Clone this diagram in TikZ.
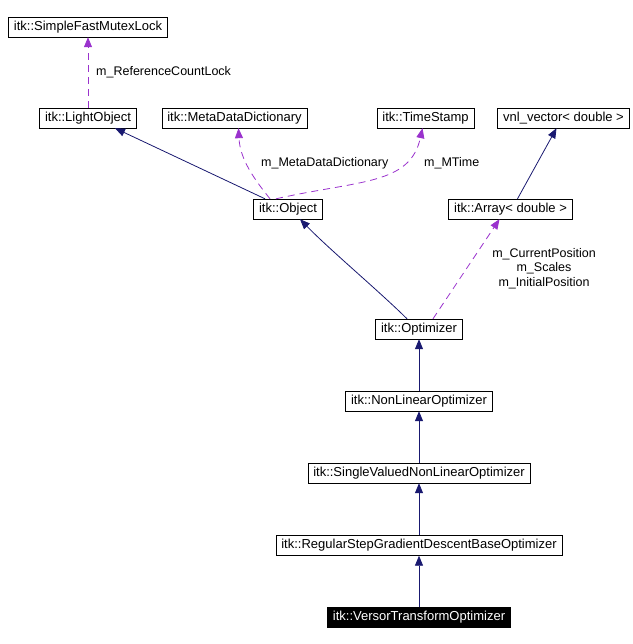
\documentclass[tikz,border=0pt]{standalone}
\usepackage{fontspec}
\setmainfont{Liberation Sans}
\usepackage{xcolor}
\definecolor{itkNavy}{HTML}{191970}
\definecolor{itkPurple}{HTML}{9A32CD}
\usetikzlibrary{arrows.meta}

\tikzset{
  cls/.style={draw, inner xsep=5.5pt, inner ysep=0pt, minimum height=20pt,
    font=\fontsize{13}{14}\selectfont},
  inherit/.style={itkNavy, line width=0.8pt, -{Triangle[length=10pt,width=8pt]}},
  member/.style={itkPurple, line width=0.8pt, dash pattern=on 7pt off 5pt,
    -{Triangle[length=10pt,width=8pt]}},
  lbl/.style={font=\fontsize{12.5}{14.5}\selectfont, align=center, inner xsep=0pt}
}

\begin{document}
\begin{tikzpicture}[x=1pt, y=-1pt]
  \useasboundingbox (0,0) rectangle (632,644);
  % ------- classes -------
  \node[cls] (mutex)  at (88,27)    {itk::SimpleFastMutexLock};
  \node[cls] (light)  at (88,118)   {itk::LightObject};
  \node[cls] (meta)   at (234.5,118) {itk::MetaDataDictionary};
  \node[cls] (stamp)  at (425.5,118) {itk::TimeStamp};
  \node[cls] (vnl)    at (563.5,118) {vnl\_vector< double >};
  \node[cls] (obj)    at (288,209)  {itk::Object};
  \node[cls] (arr)    at (510.5,209) {itk::Array< double >};
  \node[cls] (opt)    at (419,329)  {itk::Optimizer};
  \node[cls] (nonlin) at (419,401)  {itk::NonLinearOptimizer};
  \node[cls] (single) at (419,473)  {itk::SingleValuedNonLinearOptimizer};
  \node[cls] (regular) at (419,545.5) {itk::RegularStepGradientDescentBaseOptimizer};
  \node[cls, fill=black, text=white] (versor) at (419,617.5) {itk::VersorTransformOptimizer};
  % ------- inheritance -------
  \draw[inherit] ([xshift=-23pt]obj.north) -- ([xshift=27pt]light.south);
  \draw[inherit] ([xshift=7pt]arr.north) -- ([xshift=-7pt]vnl.south);
  \draw[inherit] ([xshift=-12pt]opt.north) .. controls (380,292) and (330,250) .. ([xshift=12pt]obj.south);
  \draw[inherit] (nonlin) -- (opt);
  \draw[inherit] (single) -- (nonlin);
  \draw[inherit] (regular) -- (single);
  \draw[inherit] (versor) -- (regular);
  % ------- members -------
  \draw[member] (light) -- (mutex);
  \node[lbl, anchor=west] (lblLock) at (96,72) {m\_ReferenceCountLock};
  \draw[member] ([xshift=-18pt]obj.north) .. controls (255,180) and (240,160) .. ([xshift=4pt]meta.south);
  \node[lbl, anchor=west] (lblMeta) at (261,163) {m\_MetaDataDictionary};
  \draw[member] ([xshift=-12pt]obj.north) .. controls (360,180) and (410,185) .. ([xshift=-3pt]stamp.south);
  \node[lbl, anchor=west] (lblTime) at (424,163) {m\_MTime};
  \draw[member] ([xshift=14pt]opt.north) -- ([xshift=-11pt]arr.south);
  \node[lbl] (lblPos) at (544,268.5) {m\_CurrentPosition\\m\_Scales\\m\_InitialPosition};
\end{tikzpicture}
\end{document}
